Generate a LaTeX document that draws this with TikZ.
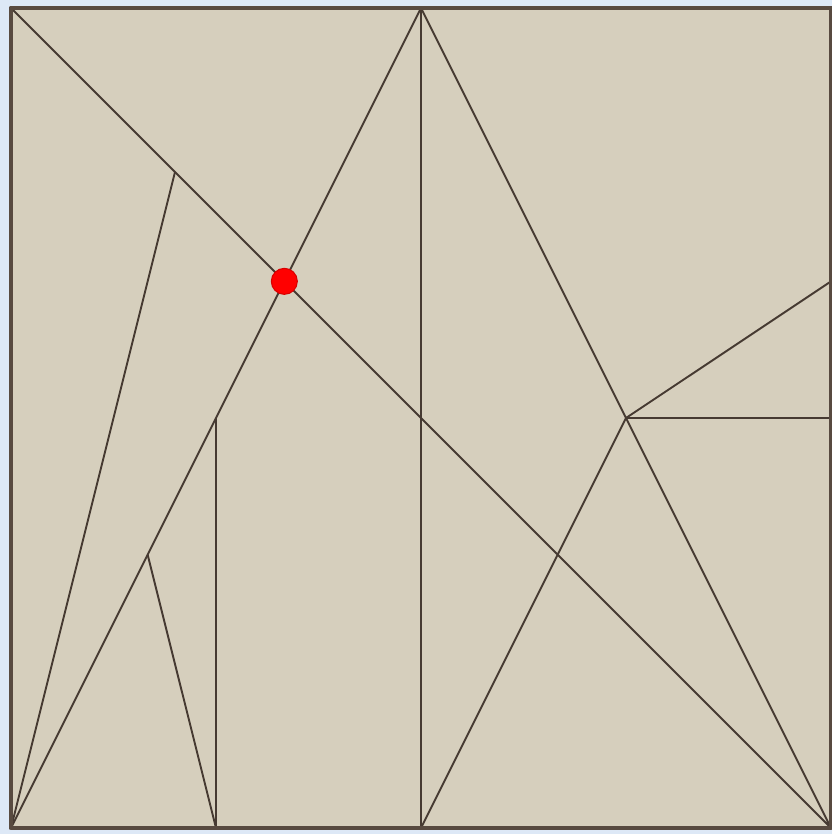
\documentclass[tikz,border=0pt]{standalone}
\definecolor{skyback}{RGB}{221,232,246}
\definecolor{paper}{RGB}{214,207,189}
\definecolor{creaseline}{RGB}{70,58,50}
\definecolor{edgeline}{RGB}{88,74,64}
\begin{document}
\begin{tikzpicture}[x=8.2cm,y=8.2cm,every path/.style={line join=round},crease/.style={draw=creaseline,line width=0.55pt},dot/.style={circle,fill=red,draw=red!85!black,line width=0.3pt,minimum size=0.26cm,inner sep=0pt}]
\fill[skyback] (-0.11cm,-0.06cm) rectangle (8.21cm,8.28cm);
\useasboundingbox (-0.11cm,-0.06cm) rectangle (8.21cm,8.28cm);
\coordinate (A) at (0,0); \coordinate (B) at (1,0); \coordinate (C) at (1,1); \coordinate (D) at (0,1);
\coordinate (E) at (0.5,1); \coordinate (F) at (0.5,0);
\coordinate (G) at (0.75,0.5); \coordinate (H) at (1,2/3); \coordinate (I) at (1,0.5);
\coordinate (J) at (0.2,0.8); \coordinate (K) at (1/6,1/3);
\coordinate (L) at (0.25,0); \coordinate (M) at (0.25,0.5);
\fill[paper] (A) rectangle (C);
\draw[crease] (D)--(B) (A)--(E) (E)--(F) (E)--(B) (G)--(H) (G)--(I) (G)--(F);
\draw[crease] (A)--(J) (K)--(L) (L)--(M);
\draw[edgeline,line width=1.4pt] (A) rectangle (C);
\node[dot] (P) at (1/3,2/3) {};
\end{tikzpicture}
\end{document}
